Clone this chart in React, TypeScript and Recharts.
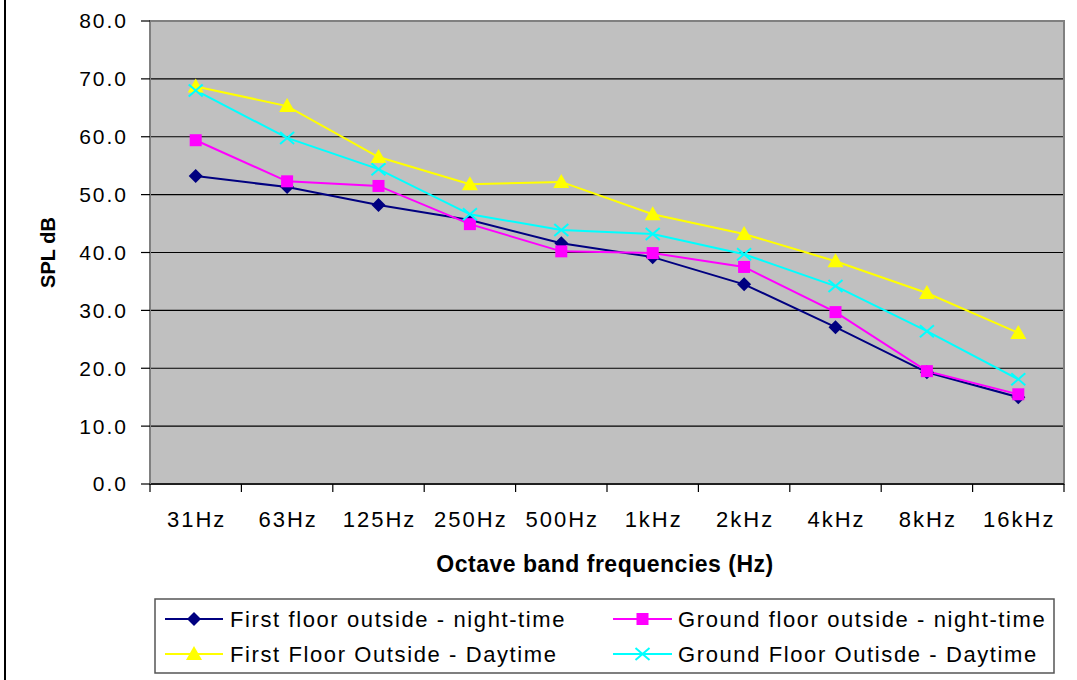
import React from 'react';
import { LineChart, Line, XAxis, YAxis, CartesianGrid, ReferenceArea } from 'recharts';

const categories = ['31Hz', '63Hz', '125Hz', '250Hz', '500Hz', '1kHz', '2kHz', '4kHz', '8kHz', '16kHz'];
const firstNight = [53.2, 51.3, 48.2, 45.6, 41.6, 39.2, 34.5, 27.1, 19.3, 15.0];
const groundNight = [59.4, 52.3, 51.5, 44.9, 40.2, 39.9, 37.5, 29.7, 19.5, 15.5];
const firstDay = [68.7, 65.3, 56.5, 51.8, 52.2, 46.6, 43.2, 38.5, 33.0, 26.1];
const groundDay = [68.0, 59.8, 54.4, 46.6, 43.9, 43.2, 39.7, 34.2, 26.4, 18.1];
const yTicks = [0, 10, 20, 30, 40, 50, 60, 70, 80];
const bandEdges = [0, 1, 2, 3, 4, 5, 6, 7, 8, 9, 10];

const seriesKeys = ['firstNight', 'groundNight', 'firstDay', 'groundDay'];
const seriesNames = [
  'First floor outside - night-time',
  'Ground floor outside - night-time',
  'First Floor Outside - Daytime',
  'Ground Floor Outisde - Daytime',
];
const seriesColors = ['#000080', '#FF00FF', '#FFFF00', '#00FFFF'];
const seriesShapes = ['diamond', 'square', 'triangle', 'cross'];
const seriesValues = [firstNight, groundNight, firstDay, groundDay];

const data = categories.map((name, i) => {
  const row: any = { name, x: i + 0.5 };
  seriesKeys.forEach((k, s) => {
    row[k] = seriesValues[s][i];
  });
  return row;
});

const FONT = '"Liberation Sans", Arial, sans-serif';

function Marker({ shape, color, cx, cy }: { shape: string; color: string; cx: number; cy: number }) {
  if (cx == null || cy == null) return null;
  if (shape === 'diamond') {
    return <polygon points={`${cx},${cy - 7} ${cx + 7},${cy} ${cx},${cy + 7} ${cx - 7},${cy}`} fill={color} />;
  }
  if (shape === 'square') {
    return <rect x={cx - 6} y={cy - 6} width={12} height={12} fill={color} />;
  }
  if (shape === 'triangle') {
    return <polygon points={`${cx},${cy - 8} ${cx + 8},${cy + 6} ${cx - 8},${cy + 6}`} fill={color} />;
  }
  return (
    <g stroke={color} strokeWidth={2}>
      <line x1={cx - 7} y1={cy - 6} x2={cx + 7} y2={cy + 6} />
      <line x1={cx - 7} y1={cy + 6} x2={cx + 7} y2={cy - 6} />
    </g>
  );
}

const EmptyTick = () => <g />;

const XLabelTick = (props: any) => {
  const { x, y, payload } = props;
  return (
    <text x={x + 1} y={y} dy="0.71em" textAnchor="middle" fontFamily={FONT} fontSize={22} letterSpacing={2} fill="#000">
      {payload.value}
    </text>
  );
};

const YTick = (props: any) => {
  const { x, y, payload } = props;
  return (
    <text x={x} y={y} dy="0.355em" textAnchor="end" fontFamily={FONT} fontSize={21} letterSpacing={2} fill="#000">
      {Number(payload.value).toFixed(1)}
    </text>
  );
};

const XTitle = (props: any) => {
  const vb = props.viewBox || {};
  return (
    <text x={vb.x + vb.width / 2 - 2} y={vb.y + 87} textAnchor="middle" fontFamily={FONT} fontSize={23} fontWeight="bold" letterSpacing={0.5} fill="#000">
      Octave band frequencies (Hz)
    </text>
  );
};

const YTitle = (props: any) => {
  const vb = props.viewBox || {};
  const cx = 48;
  const cy = vb.y + vb.height / 2;
  return (
    <text x={cx} y={cy} transform={`rotate(-90 ${cx} ${cy})`} textAnchor="middle" dominantBaseline="central" fontFamily={FONT} fontSize={20} fontWeight="bold" fill="#000">
      SPL dB
    </text>
  );
};

function LegendBox() {
  const rows = [619, 654];
  const cols = [
    { line1: 165, line2: 223, text: 230 },
    { line1: 613, line2: 672, text: 678 },
  ];
  return (
    <svg width={1077} height={680} style={{ position: 'absolute', left: 0, top: 0, pointerEvents: 'none' }}>
      <line x1={5} y1={0} x2={5} y2={680} stroke="#000" strokeWidth={2} />
      <rect x={155} y={599} width={899} height={74} fill="#fff" stroke="#555" strokeWidth={1.5} />
      {seriesNames.map((name, i) => {
        const r = rows[Math.floor(i / 2)];
        const c = cols[i % 2];
        const mid = (c.line1 + c.line2) / 2;
        return (
          <g key={name}>
            <line x1={c.line1} y1={r} x2={c.line2} y2={r} stroke={seriesColors[i]} strokeWidth={2} />
            <Marker shape={seriesShapes[i]} color={seriesColors[i]} cx={mid} cy={r} />
            <text x={c.text} y={r} dy="0.355em" fontFamily={FONT} fontSize={22} letterSpacing={1.6} fill="#000">
              {name}
            </text>
          </g>
        );
      })}
    </svg>
  );
}

export default function App() {
  return (
    <div style={{ position: 'absolute', left: 0, top: 0, width: 1077, height: 680, background: '#fff' }}>
      <LineChart width={1077} height={680} data={data} margin={{ top: 21, right: 13, left: 0, bottom: 0 }}>
        <CartesianGrid xAxisId="edges" vertical={false} stroke="#000" strokeWidth={1.2} fill="#C0C0C0" fillOpacity={1} />
        <XAxis
          xAxisId="edges"
          dataKey="x"
          type="number"
          domain={[0, 10]}
          ticks={bandEdges}
          height={1}
          tick={<EmptyTick />}
          tickSize={8}
          interval={0}
          axisLine={{ stroke: '#000', strokeWidth: 1.5 }}
          tickLine={{ stroke: '#000', strokeWidth: 1.2 }}
        />
        <XAxis
          xAxisId="labels"
          dataKey="name"
          type="category"
          scale="band"
          height={195}
          axisLine={false}
          tickLine={false}
          tickSize={0}
          tickMargin={26}
          interval={0}
          tick={<XLabelTick />}
          label={<XTitle />}
        />
        <YAxis
          domain={[0, 80]}
          ticks={yTicks}
          width={150}
          tickSize={9}
          tickMargin={13}
          interval={0}
          axisLine={{ stroke: '#808080', strokeWidth: 2 }}
          tickLine={{ stroke: '#000', strokeWidth: 1.2 }}
          tick={<YTick />}
          label={<YTitle />}
        />
        <ReferenceArea xAxisId="edges" x1={0} x2={10} y1={0} y2={80} fill="none" fillOpacity={0} stroke="#808080" strokeWidth={2} />
        {seriesKeys.map((k, i) => (
          <Line
            key={k}
            xAxisId="edges"
            dataKey={k}
            type="linear"
            stroke={seriesColors[i]}
            strokeWidth={2}
            isAnimationActive={false}
            dot={(p: any) => <Marker key={`${k}-${p.index}`} shape={seriesShapes[i]} color={seriesColors[i]} cx={p.cx} cy={p.cy} />}
            activeDot={false}
          />
        ))}
      </LineChart>
      <LegendBox />
    </div>
  );
}
